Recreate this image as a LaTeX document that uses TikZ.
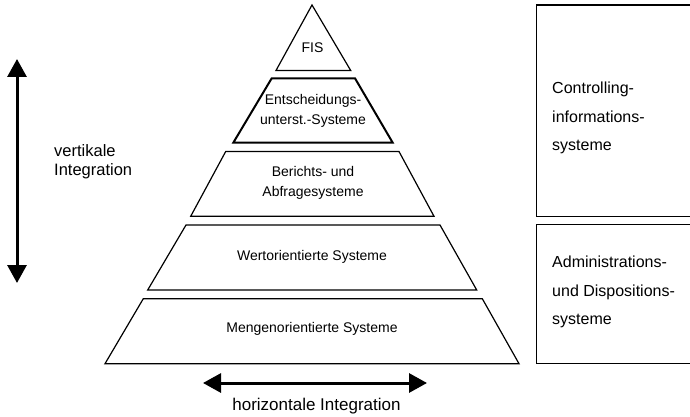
\documentclass[tikz,border=0pt]{standalone}
\usepackage{fontspec}
\setmainfont{Liberation Sans}
\usetikzlibrary{arrows.meta}
\begin{document}
\begin{tikzpicture}[x=1pt,y=-1pt,
  layer/.style={draw=black,line width=1.2pt,line join=miter},
  strong/.style={draw=black,line width=2pt,line join=miter},
  sidebox/.style={draw=black,line width=1.5pt},
  ptext/.style={font=\fontsize{14}{20}\selectfont,align=center,inner sep=0pt},
  btext/.style={font=\fontsize{16}{28.5}\selectfont,align=left,anchor=west,inner sep=0pt},
  ltext/.style={font=\fontsize{16.5}{19}\selectfont,inner sep=0pt},
  bigarrow/.style={line width=3pt,{Triangle[length=18pt,width=19pt]}-{Triangle[length=18pt,width=19pt]}}]
\useasboundingbox (0,0) rectangle (690,417);
\clip (0,0) rectangle (690,417);

% pyramid, from the top level down
\draw[layer] (312,5) -- (350.7,70.5) -- (276,70.5) -- cycle;
\draw[strong] (271.7,78.3) -- (355,78.3) -- (392.7,142.7) -- (233.3,142.7) -- cycle;
\draw[layer] (225.7,151.5) -- (399,151.5) -- (434,216.3) -- (190.7,216.3) -- cycle;
\draw[layer] (186,225) -- (440,225) -- (476.7,290) -- (147.7,290) -- cycle;
\draw[layer] (143.3,298.7) -- (482.3,298.7) -- (519,363.7) -- (105,363.7) -- cycle;

\node[ptext] (fis) at (312.5,48) {FIS};
\node[ptext] (eus) at (313,110.5) {Entscheidungs-\\unterst.-Systeme};
\node[ptext] (bas) at (313,183) {Berichts- und\\Abfragesysteme};
\node[ptext] (wos) at (312,257) {Wertorientierte Systeme};
\node[ptext] (mos) at (312,328.5) {Mengenorientierte Systeme};

% side boxes, running past the right edge
\draw[sidebox] (536.7,5) rectangle (720,216.7);
\draw[sidebox] (536.7,224.7) rectangle (720,363.3);
\node[btext] (cis) at (552,118) {Controlling-\\informations-\\systeme};
\node[btext] (ads) at (552,292) {Administrations-\\und Dispositions-\\systeme};

% integration arrows
\coordinate (vtop) at (17,59);
\coordinate (vbot) at (17,283);
\draw[bigarrow] (vtop) -- (vbot);
\node[ltext,align=left,anchor=west] (vlab) at (54,162) {vertikale\\Integration};

\coordinate (hleft) at (203,383);
\coordinate (hright) at (427,383);
\draw[bigarrow] (hleft) -- (hright);
\node[ltext,font=\fontsize{17}{19}\selectfont] (hlab) at (316.5,406) {horizontale Integration};
\end{tikzpicture}
\end{document}
